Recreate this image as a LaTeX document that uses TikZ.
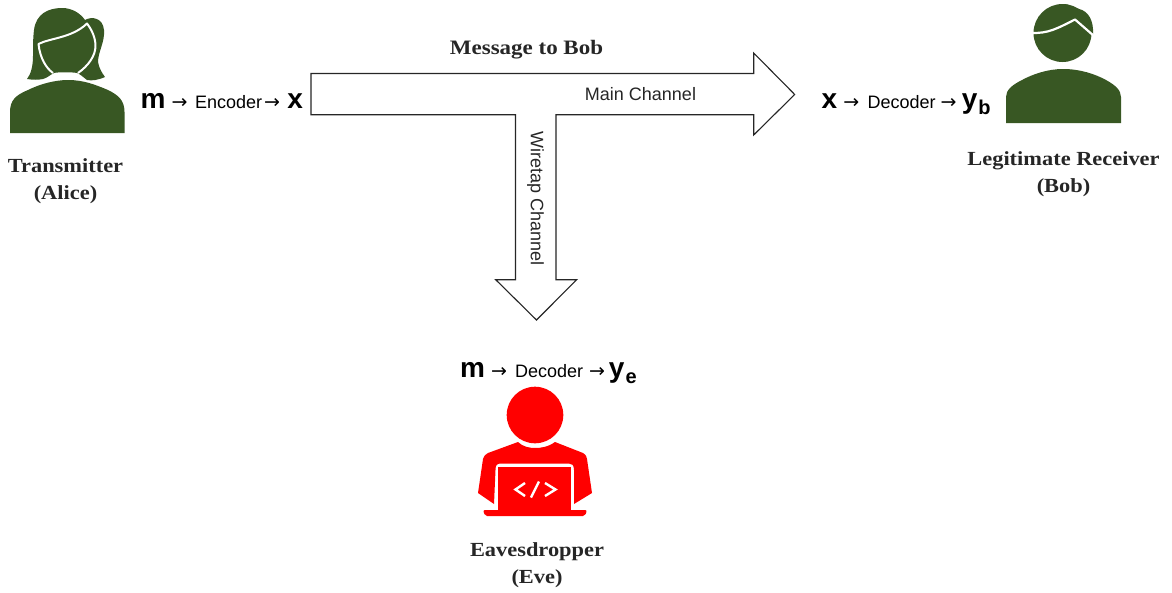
\documentclass[tikz,border=0pt]{standalone}
\usepackage{fontspec}
\setmainfont[FakeStretch=1.12]{Liberation Serif}
\setsansfont{Liberation Sans}
\newfontfamily\arrowfont{DejaVu Sans}
\definecolor{leaf}{HTML}{385723}
\newcommand{\bigsym}[1]{{\fontsize{28}{30}\selectfont\sffamily\bfseries #1}}
\newcommand{\subsym}[1]{\raisebox{-5.5pt}{\fontsize{20}{20}\selectfont\sffamily\bfseries #1}}
\newcommand{\midtxt}[1]{{\fontsize{18}{20}\selectfont\sffamily #1}}
\newcommand{\rarrow}{{\fontsize{19}{20}\selectfont\arrowfont →}}
\newcommand{\gp}[1]{\hspace*{#1pt}}
\tikzset{
  x=1pt,y=-1pt,
  caption/.style={font=\fontsize{20}{27}\selectfont\bfseries,align=center,inner sep=0pt,text=black!85},
  chain/.style={inner sep=0pt,anchor=base west},
  chan/.style={font=\fontsize{18}{20}\selectfont\sffamily,inner sep=0pt,text=black!85},
  pipe/.style={draw=black!85,line width=1.1pt,fill=white,line join=miter},
  person/.style={fill=leaf,draw=none},
  gap/.style={draw=white,line width=2pt},
}
\begin{document}
\begin{tikzpicture}
\useasboundingbox (0,0) rectangle (1172,592);
% channel arrows
\draw[pipe] (311,73.5) -- (753.7,73.5) -- (753.7,53) -- (794.7,94.5) -- (753.7,135) -- (753.7,114.7)
  -- (556,114.7) -- (556,279.7) -- (576.7,279.7) -- (536.5,320) -- (495.7,279.7) -- (515.5,279.7)
  -- (515.5,114.7) -- (311,114.7) -- cycle;
% Alice
\fill[person] (10,133) -- (10,112) .. controls (10,100) and (16,95) .. (28,90)
  .. controls (40,84) and (55,80) .. (68,80) .. controls (84,80) and (96,85) .. (108,90)
  .. controls (118,95) and (124.5,100) .. (124.5,112) -- (124.5,133) -- cycle;
\fill[person] (34,30) .. controls (36,14) and (48,8) .. (62,8) .. controls (72,8) and (80,13) .. (85,20)
  .. controls (92,16) and (103,18) .. (104,30) .. controls (105,42) and (98,52) .. (98,62)
  .. controls (99,68) and (102,73) .. (105,77) .. controls (98,80) and (92,81) .. (87,80)
  .. controls (83,77) and (80,74) .. (77,73) .. controls (72,72) and (58,72) .. (54,73)
  .. controls (50,75) and (47,78) .. (43,79) .. controls (38,80) and (33,80) .. (27,79)
  .. controls (31,74) and (33,66) .. (33,56) .. controls (33,46) and (33,38) .. (34,30) -- cycle;
\draw[gap,line join=round] (53,73) .. controls (46,68) and (40,58) .. (38.5,44)
  .. controls (50,38) and (72,38) .. (87,23.5)
  .. controls (92,30) and (95.5,38) .. (95.5,46) .. controls (95.5,56) and (88,66) .. (78,73);
% Bob
\fill[person] (1006,123) -- (1006,97) .. controls (1006,90) and (1012,85) .. (1022,80)
  .. controls (1033,74) and (1048,69) .. (1063,69) .. controls (1080,69) and (1095,74) .. (1106,80)
  .. controls (1115,85) and (1121,90) .. (1121,97) -- (1121,123) -- cycle;
\fill[person] (1062.5,33) circle[radius=29];
\fill[person] (1062,4) .. controls (1070,4) and (1074,8) .. (1079,9) .. controls (1088,11) and (1094,20) .. (1093,35) -- (1075,25) -- cycle;
\draw[gap,line width=2.2pt,line join=round] (1031,32.8) .. controls (1048,34) and (1058,28) .. (1075,19.5) -- (1094,36);
% Eve
\fill[red] (535,415) circle[radius=28.3];
\fill[red] (518,442) .. controls (523,447) and (530,448) .. (535,448) .. controls (541,448) and (548,447) .. (555,442)
  -- (583,453) .. controls (586,455) and (587,457) .. (587,459) -- (592,493) -- (574,504) -- (574,470)
  .. controls (574,465) and (572,463.5) .. (569,463.5) -- (501,463.5) .. controls (497,463.5) and (495.5,465) .. (495.5,470)
  -- (494,504) -- (478,493) -- (483,459) .. controls (483,457) and (485,455) .. (488,453) -- cycle;
\fill[red] (498,466.5) -- (571,466.5) -- (571,510) -- (498,510) -- cycle;
\fill[red,rounded corners=2pt] (483,510) -- (587,510) -- (585,516) -- (485,516) -- cycle;
\draw[white,line width=2.4pt,line join=miter]
  (525,483) -- (515.5,489.5) -- (525,496)
  (545,483) -- (555.5,489.5) -- (545,496)
  (531,497.5) -- (539,481.5);
% labels
\node[caption,font=\fontsize{20.5}{27}\selectfont\bfseries] (msg) at (526.5,49.5) {Message to Bob};
\node[chan] (mainlab) at (640.5,94) {Main Channel};
\node[chan,rotate=-90] (wirelab) at (535.5,198.5) {Wiretap Channel};
\node[caption] (alice) at (65.5,181.5) {Transmitter\\(Alice)};
\node[caption] (bob) at (1063.5,174.5) {Legitimate Receiver\\(Bob)};
\node[caption] (eve) at (537,565) {Eavesdropper\\(Eve)};
\node[chain] (enc) at (140.5,108.5) {\bigsym{m}\gp{6}\rarrow\gp{7.5}\midtxt{Encoder}\gp{2}\rarrow\gp{7.5}\bigsym{x}};
\node[chain] (dec) at (821.5,108.5) {\bigsym{x}\gp{6}\rarrow\gp{8.3}\midtxt{Decoder}\gp{5}\rarrow\gp{5.3}\bigsym{y}\gp{1}\subsym{b}};
\node[chain] (eved) at (460,377.5) {\bigsym{m}\gp{6}\rarrow\gp{8}\midtxt{Decoder}\gp{6}\rarrow\gp{4}\bigsym{y}\gp{1}\subsym{e}};
\end{tikzpicture}
\end{document}
